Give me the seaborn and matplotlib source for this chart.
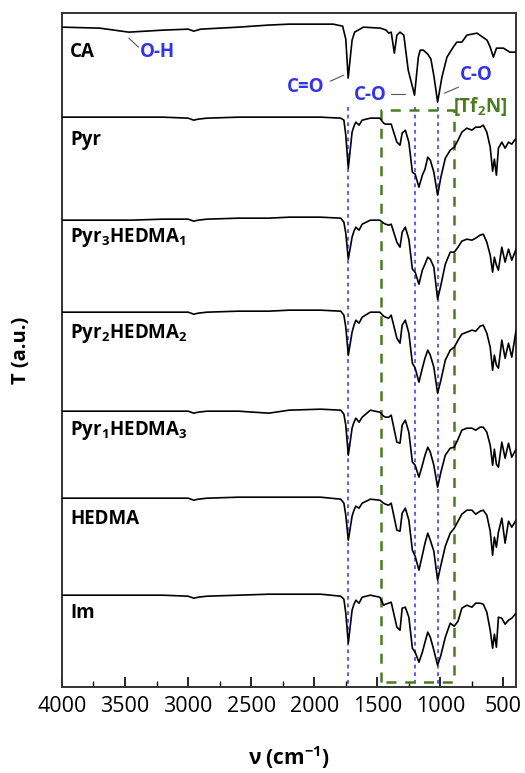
import matplotlib
matplotlib.use("Agg")
import matplotlib.pyplot as plt
from matplotlib.ticker import MultipleLocator
import pandas as pd
import seaborn as sns

# ---- data (depth below each trace's baseline, a.u.) ----
ca_nu = [4000, 3700, 3470, 3200, 3000, 2955, 2900, 2600, 2370, 2200, 1850, 1775,
         1750, 1731, 1700, 1680, 1610, 1475, 1430, 1410, 1390, 1365, 1345, 1320,
         1290, 1255, 1205, 1175, 1160, 1135, 1100, 1075, 1050, 1022, 988, 948,
         898, 870, 830, 790, 710, 630, 605, 580, 555, 500, 450, 400]
ca_depth = [3, 4, 8, 6, 5, 7, 5, 3, 1, 0, 0, 2,
            15, 54, 16, 8, 3, 4, 6, 9, 8, 29, 11, 8,
            11, 46, 71, 33, 26, 26, 30, 35, 53, 78, 53, 33,
            23, 18, 18, 11, 9, 16, 23, 33, 24, 24, 28, 28]

nu = [4000, 3700, 3450, 3200, 3000, 2955, 2920, 2850, 2600, 2360, 2200, 1950,
      1790, 1765, 1750, 1730, 1700, 1685, 1670, 1645, 1620, 1555, 1480, 1450,
      1435, 1410, 1390, 1345, 1320, 1303, 1278, 1250, 1222, 1200, 1170, 1143,
      1122, 1100, 1080, 1052, 1022, 996, 961, 922, 890, 860, 830, 790,
      750, 720, 685, 660, 632, 605, 586, 572, 556, 540, 513, 487,
      460, 434, 400]
pyr = [0, 0, 0, 0, 1, 3, 2, 1, 0, 0, 0, 0,
       1, 3, 18, 51, 15, 9, 5, 8, 3, 1, 1, 6,
       7, 7, 7, 25, 28, 16, 13, 25, 55, 57, 70, 58,
       52, 40, 43, 55, 78, 60, 41, 33, 30, 23, 15, 11,
       13, 10, 10, 8, 15, 30, 54, 42, 58, 31, 25, 31,
       25, 27, 21]
pyr3 = [3, 3, 3, 2, 2, 4, 3, 2, 1, 1, 0, 0,
        1, 5, 16, 42, 20, 14, 10, 13, 7, 3, 3, 6,
        7, 8, 7, 25, 30, 15, 10, 22, 52, 55, 67, 53,
        47, 40, 42, 50, 82, 68, 47, 35, 35, 30, 24, 22,
        23, 21, 18, 17, 25, 38, 55, 40, 48, 53, 30, 45,
        32, 43, 32]
pyr2 = [2, 2, 2, 2, 2, 4, 3, 2, 1, 1, 0, 0,
        1, 5, 17, 45, 22, 15, 10, 13, 7, 2, 2, 6,
        7, 8, 5, 28, 33, 15, 10, 23, 53, 58, 72, 58,
        48, 40, 45, 57, 83, 70, 50, 40, 37, 30, 24, 22,
        20, 21, 16, 15, 23, 37, 60, 45, 55, 58, 30, 48,
        33, 47, 20]
pyr1 = [2, 2, 2, 2, 2, 4, 3, 2, 2, 4, 1, 0,
        1, 5, 16, 46, 19, 13, 9, 13, 8, 1, 3, 7,
        8, 8, 6, 33, 34, 16, 11, 23, 53, 56, 68, 56,
        46, 38, 43, 56, 78, 63, 46, 39, 38, 30, 21, 19,
        19, 21, 18, 18, 23, 36, 56, 40, 55, 58, 33, 49,
        34, 48, 40]
hedma = [1, 1, 1, 1, 1, 3, 2, 1, 0, 0, 0, 0,
         2, 6, 18, 43, 19, 13, 9, 11, 6, 2, 3, 6,
         7, 8, 6, 33, 34, 16, 11, 23, 53, 59, 73, 58,
         46, 36, 43, 54, 83, 68, 49, 36, 31, 24, 17, 13,
         13, 17, 14, 13, 18, 34, 58, 40, 50, 35, 21, 46,
         24, 30, 23]
im = [1, 1, 1, 1, 2, 4, 3, 2, 1, 0, 0, 0,
      2, 5, 19, 49, 16, 10, 6, 9, 3, 1, 3, 11,
      10, 9, 8, 33, 36, 14, 13, 23, 54, 58, 68, 58,
      48, 38, 43, 56, 71, 61, 43, 29, 32, 27, 14, 11,
      13, 9, 9, 10, 18, 36, 54, 40, 53, 23, 24, 30,
      26, 24, 19]

names = ["CA", "Pyr", "Pyr$_3$HEDMA$_1$", "Pyr$_2$HEDMA$_2$",
         "Pyr$_1$HEDMA$_3$", "HEDMA", "Im"]
baselines = [0, -93, -193, -286, -385, -473, -570]
label_y = [-28, -116, -213, -309, -406, -495, -589]

peak_lines = [1730, 1205, 1022]
tf2n_box = [1470, 890]

# ---- build long table ----
rows = []
series = [(ca_nu, ca_depth)] + [(nu, d) for d in [pyr, pyr3, pyr2, pyr1, hedma, im]]
for name, base, (xs, ds) in zip(names, baselines, series):
    for x, d in zip(xs, ds):
        rows.append({"nu": x, "T": base - d, "sample": name})
df = pd.DataFrame(rows)

sns.set_style("ticks")
plt.rcParams["font.family"] = ["Open Sans", "DejaVu Sans"]
plt.rcParams["text.color"] = "black"
plt.rcParams["axes.labelcolor"] = "black"
plt.rcParams["xtick.color"] = "black"
plt.rcParams["mathtext.fontset"] = "custom"
plt.rcParams["mathtext.rm"] = "Open Sans:bold"
plt.rcParams["mathtext.bf"] = "Open Sans:bold"
plt.rcParams["mathtext.it"] = "Open Sans:bold"

fig = plt.figure(figsize=(5.25, 7.73), dpi=100)
ax = fig.add_axes([0.118, 0.111, 0.865, 0.872])

blue = "#3333ee"
green = "#4a7a22"

# marker lines
for p in peak_lines:
    ax.plot([p, p], [-83, -663], color=blue, lw=1.1, ls=(0, (2.5, 2.5)), zorder=1)
ax.plot([tf2n_box[0], tf2n_box[0], tf2n_box[1], tf2n_box[1], tf2n_box[0]],
        [-658, -86, -86, -658, -658], color=green, lw=1.8, ls=(0, (4, 3.5)), zorder=1)

sns.lineplot(data=df, x="nu", y="T", units="sample", estimator=None,
             color="black", lw=1.2, ax=ax, zorder=3)

for name, y in zip(names, label_y):
    ax.text(3935, y, name, fontsize=13.5, fontweight="bold", va="center", ha="left")

# band annotations
ax.text(3380, -28, "O-H", color=blue, fontsize=13.5, fontweight="bold", va="center")
ax.plot([3470, 3393], [-14, -23], color="#555555", lw=0.8)
ax.text(2215, -63, "C=O", color=blue, fontsize=13.5, fontweight="bold", va="center")
ax.plot([1872, 1766], [-57, -51], color="#555555", lw=0.8)
ax.text(1685, -71, "C-O", color=blue, fontsize=13.5, fontweight="bold", va="center")
ax.plot([1391, 1278], [-70, -70], color="#555555", lw=0.8)
ax.text(845, -51, "C-O", color=blue, fontsize=13.5, fontweight="bold", va="center")
ax.plot([967, 856], [-69, -63], color="#555555", lw=0.8)
ax.text(900, -82, "[Tf$_2$N]", color=green, fontsize=13.5, fontweight="bold",
        va="center", ha="left")

ax.set_xlim(4000, 400)
ax.set_ylim(-663, 11)
ax.set_xticks(range(4000, 499, -500))
ax.xaxis.set_minor_locator(MultipleLocator(250))
ax.tick_params(axis="x", which="major", direction="in", length=7, width=1.2,
               labelsize=15.5, pad=6, top=False)
ax.tick_params(axis="x", which="minor", direction="in", length=4, width=1.0, top=False)
ax.set_yticks([])
for s in ax.spines.values():
    s.set_linewidth(1.4)
    s.set_color("#333333")

ax.set_xlabel("ν (cm$^{-1}$)", fontsize=15, fontweight="bold", labelpad=20)
ax.set_ylabel("T (a.u.)", fontsize=14.5, fontweight="bold", labelpad=22)

fig.savefig("out.png", dpi=100)
